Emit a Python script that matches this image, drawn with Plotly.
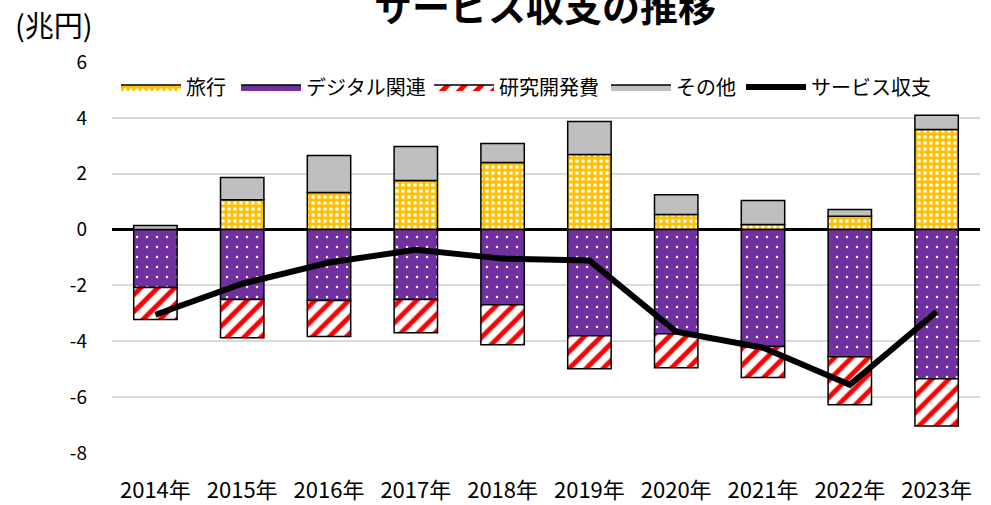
import plotly.graph_objects as go

years = ["2014年", "2015年", "2016年", "2017年", "2018年", "2019年", "2020年", "2021年", "2022年", "2023年"]
travel = [0.0, 1.07, 1.33, 1.76, 2.40, 2.69, 0.54, 0.18, 0.48, 3.58]
digital = [-2.07, -2.50, -2.54, -2.50, -2.69, -3.80, -3.73, -4.19, -4.55, -5.34]
rnd = [-1.15, -1.37, -1.29, -1.19, -1.43, -1.18, -1.22, -1.11, -1.72, -1.69]
other = [0.15, 0.79, 1.32, 1.21, 0.68, 1.18, 0.71, 0.86, 0.24, 0.51]
services = [-3.05, -1.94, -1.18, -0.72, -1.04, -1.11, -3.66, -4.23, -5.56, -2.94]
yticks = [6, 4, 2, 0, -2, -4, -6, -8]

FONT = "Noto Sans CJK JP"
outline = dict(color="black", width=1.5)

series = [
    ("旅行", travel, "#FFC000", dict(shape=".", fgcolor="white", bgcolor="#FFC000", size=6, solidity=0.3, fillmode="replace"), "legend"),
    ("デジタル関連", digital, "#7030A0", dict(shape=".", fgcolor="white", bgcolor="#7030A0", size=10, solidity=0.05, fillmode="replace"), "legend2"),
    ("研究開発費", rnd, "white", dict(shape="/", fgcolor="#FF0000", bgcolor="white", size=12, solidity=0.4, fillmode="replace"), "legend3"),
    ("その他", other, "#BFBFBF", None, "legend4"),
]

fig = go.Figure()
for name, vals, color, pat, lg in series:
    m = dict(color=color, line=outline)
    if pat:
        m["pattern"] = pat
    fig.add_trace(go.Bar(x=years, y=vals, name=name, marker=m, showlegend=False, legendgroup=name))
for name, vals, color, pat, lg in series:
    kw = dict(fillpattern=dict(shape=pat["shape"], fgcolor=pat["fgcolor"], bgcolor=pat["bgcolor"],
                               size=pat["size"], solidity=pat["solidity"], fillmode="replace")) if pat else {}
    fig.add_trace(go.Scatter(x=[None], y=[None], name=name, mode="lines", fill="toself",
                             fillcolor=color, line=dict(color="black", width=1.5),
                             legend=lg, legendgroup=name, showlegend=True, **kw))
fig.add_trace(go.Scatter(
    x=years, y=services, name="サービス収支", mode="lines", legend="legend5",
    line=dict(color="black", width=6),
))

def leg(x):
    return dict(orientation="h", x=x, xanchor="left", y=0.936, yanchor="middle",
                bgcolor="rgba(255,255,255,0)", font=dict(family=FONT, size=20),
                itemwidth=60)

fig.update_layout(
    width=991, height=505,
    barmode="relative", bargap=0.5,
    plot_bgcolor="white", paper_bgcolor="white",
    margin=dict(l=112, r=11, t=62, b=52),
    font=dict(family=FONT, size=17, color="black"),
    title=dict(text="<b>サービス収支の推移</b>", x=0.55, xref="container", xanchor="center",
               y=0.984, yref="container", yanchor="middle",
               font=dict(family=FONT, size=38, color="black")),
    legend=leg(0.0046), legend2=leg(0.1429), legend3=leg(0.3652),
    legend4=leg(0.5691), legend5=leg(0.7247),
    showlegend=True,
    xaxis=dict(showgrid=False, showline=False, ticks="", ticklabelstandoff=22,
               tickfont=dict(family=FONT, size=22)),
    yaxis=dict(range=[-8, 6], tickvals=yticks, ticktext=[str(v) for v in yticks],
               showgrid=True, gridcolor="#D9D9D9", gridwidth=1.5,
               zeroline=True, zerolinecolor="black", zerolinewidth=3,
               showline=False, ticks="", ticklabelstandoff=24,
               tickfont=dict(family=FONT, size=19),
               layer="above traces"),
    annotations=[dict(text="(兆円)", xref="paper", yref="paper", x=-0.114, y=1.097,
                      xanchor="left", yanchor="middle", showarrow=False,
                      font=dict(family=FONT, size=29, color="black"))],
)
fig.update_yaxes(automargin=False)
fig.update_xaxes(automargin=False)

fig.write_html("out.html", config={"displayModeBar": False},
               post_script="document.body.style.margin='0';")
